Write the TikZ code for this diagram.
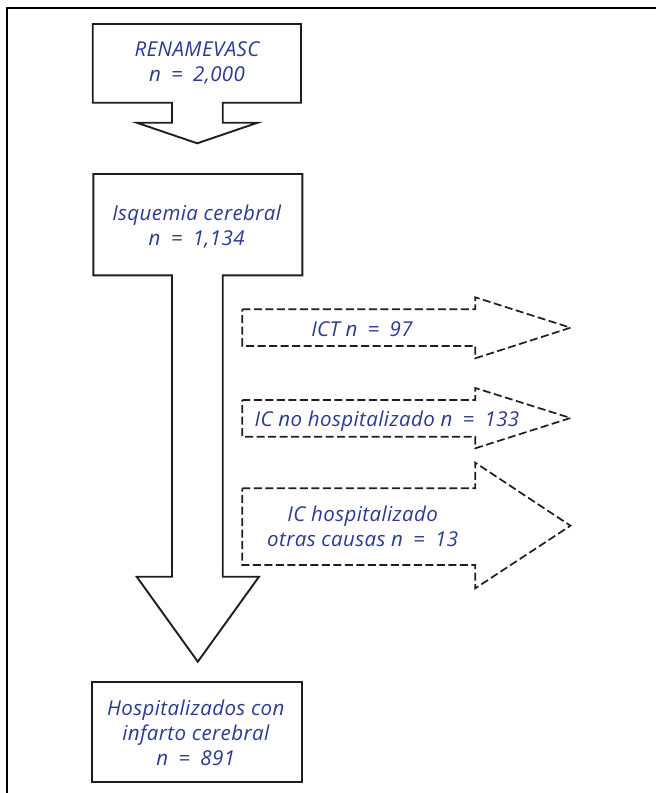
\documentclass[tikz,border=0pt]{standalone}
\usepackage{fontspec}
\setmainfont[LetterSpace=2.0]{Open Sans}
\definecolor{txtblue}{RGB}{43,57,144}
\definecolor{ink}{RGB}{30,30,30}
\newcommand\mlines[1]{\begin{tabular}[t]{@{}c@{}}#1\end{tabular}}
\newcommand\eqsp{\enspace=\enspace}
\tikzset{
  lbl/.style={inner sep=0pt, anchor=base, text=txtblue,
    font=\fontsize{20.5}{25}\selectfont\itshape},
  solidshape/.style={draw=ink, line width=1.9pt, line join=miter},
  dashshape/.style={draw=ink, line width=1.7pt, dash pattern=on 8pt off 3.5pt, line join=miter},
  frame/.style={draw=black, line width=2.8pt}
}
\begin{document}
\begin{tikzpicture}[x=1pt,y=-1pt]
\useasboundingbox (0,0) rectangle (656,793);
% frame (top and left edges)
\draw[frame] (7,800) -- (7,8) -- (660,8);

% top box with arrow
\draw[solidshape] (92.7,24) -- (301,24) -- (301,102.7) -- (222.7,102.7) -- (222.7,122.7)
  -- (257.7,122.7) -- (197.2,143.3) -- (136.7,122.7) -- (172,122.7) -- (172,102.7)
  -- (92.7,102.7) -- cycle;
\node[lbl] (ren) at (197,56.7) {\mlines{RENAMEVASC\\n\eqsp2,000}};

% second box with long arrow
\draw[solidshape] (93.3,174) -- (302.3,174) -- (302.3,275.3) -- (222.7,275.3) -- (222.7,576.7)
  -- (259,576.7) -- (197.8,661.7) -- (136.7,576.7) -- (172,576.7) -- (172,275.3)
  -- (93.3,275.3) -- cycle;
\node[lbl] (isq) at (196.7,220.7) {\mlines{Isquemia cerebral\\n\eqsp1,134}};

% dashed arrows
\draw[dashshape] (242.3,309.3) -- (475.3,309.3) -- (475.3,297.3) -- (570.5,327.7)
  -- (475.3,358.3) -- (475.3,346) -- (242.3,346) -- cycle;
\node[lbl] (ict) at (362,336.7) {ICT n\eqsp97};

\draw[dashshape] (242.3,400) -- (475.3,400) -- (475.3,388) -- (570.5,418)
  -- (475.3,448.3) -- (475.3,436.7) -- (242.3,436.7) -- cycle;
\node[lbl] (icno) at (387,426.7) {IC no hospitalizado n\eqsp133};

\draw[dashshape] (242.3,488.3) -- (475.3,488.3) -- (475.3,462.7) -- (570.5,525.7)
  -- (475.3,588.3) -- (475.3,565) -- (242.3,565) -- cycle;
\node[lbl] (icho) at (362.7,521.7) {\mlines{IC hospitalizado\\otras causas n\eqsp13}};

% bottom box
\draw[solidshape] (92.3,682.3) rectangle (302.3,782.3);
\node[lbl] (hosp) at (195.8,715) {\mlines{Hospitalizados con\\infarto cerebral\\n\eqsp891}};
\end{tikzpicture}
\end{document}
